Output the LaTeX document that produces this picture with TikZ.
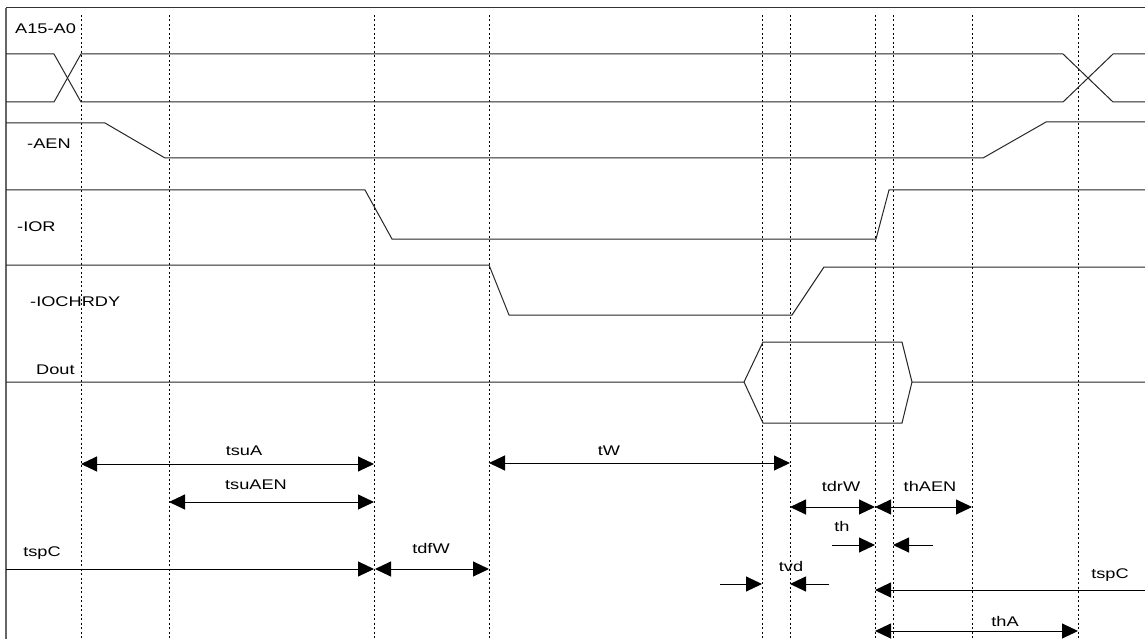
\documentclass[tikz,border=0pt]{standalone}
\usepackage{fontspec}
\usepackage{tikz}
\usetikzlibrary{arrows.meta}
\newfontfamily\diagfont[FakeStretch=1.3]{Liberation Sans}

\begin{document}
\begin{tikzpicture}[x=1pt,y=-1pt,
  sig/.style={line width=1pt,draw=black!85},
  mark line/.style={line width=0.9pt,dash pattern=on 2pt off 2.5pt},
  span/.style={line width=1pt,{Triangle[length=16pt,width=15pt]}-{Triangle[length=16pt,width=15pt]}},
  half/.style={line width=1pt,-{Triangle[length=16pt,width=15pt]}},
  lbl/.style={font=\diagfont\fontsize{14}{16}\selectfont,inner sep=0pt,anchor=base}]
\useasboundingbox (0,0) rectangle (1145,639);
\fill[white] (0,0) rectangle (1145,639);
% frame
\draw[line width=2pt,black!60] (6,8) -- (6,639);
\draw[line width=1pt,black!80] (6,8) -- (1145,8);
% time marks
\draw[mark line] (81,15) -- (81,639);
\draw[mark line] (169,15) -- (169,639);
\draw[mark line] (374,15) -- (374,639);
\draw[mark line] (489,15) -- (489,639);
\draw[mark line] (762,15) -- (762,639);
\draw[mark line] (790,15) -- (790,639);
\draw[mark line] (875,15) -- (875,639);
\draw[mark line] (893,15) -- (893,639);
\draw[mark line] (972,15) -- (972,639);
\draw[mark line] (1078,15) -- (1078,639);
% A15-A0
\node[lbl,anchor=base west] (nA) at (15,34) {A15-A0};
\draw[sig] (6,54) -- (54,54) -- (81,102) -- (1063,102) -- (1113,54) -- (1145,54);
\draw[sig] (6,102) -- (54,102) -- (81,54) -- (1063,54) -- (1113,102) -- (1145,102);
% -AEN
\node[lbl,anchor=base west] (nAEN) at (27,149) {-AEN};
\draw[sig] (6,123) -- (105,123) -- (165,158) -- (983,158) -- (1046,122) -- (1145,122);
% -IOR
\node[lbl,anchor=base west] (nIOR) at (17,231) {-IOR};
\draw[sig] (6,190) -- (365,190) -- (392,239) -- (876,239) -- (889,190) -- (1145,190);
% -IOCHRDY
\node[lbl,anchor=base west] (nRDY) at (30,306) {-IOCHRDY};
\draw[sig] (6,265) -- (489,265) -- (509,315) -- (792,315) -- (824,267) -- (1145,267);
% Dout
\node[lbl,anchor=base west] (nDout) at (36,374) {Dout};
\draw[sig] (6,382) -- (744,382) -- (763,342) -- (902,342) -- (912,382) -- (1145,382);
\draw[sig] (744,382) -- (763,423) -- (902,423) -- (912,382);
% timing parameters
\draw[span] (81,464) -- (374,464);
\node[lbl] (ntsuA) at (244,455) {tsuA};
\draw[span] (169,502) -- (374,502);
\node[lbl] (ntsuAEN) at (256,489) {tsuAEN};
\draw[half] (6,569) -- (374,569);
\node[lbl] (ntspC) at (42,556) {tspC};
\draw[span] (375,569) -- (489,569);
\node[lbl] (ntdfW) at (431,553) {tdfW};
\draw[span] (489,463) -- (790,463);
\node[lbl] (ntW) at (609,455) {tW};
\draw[half] (720,584) -- (762,584);
\draw[half] (829,584) -- (790,584);
\node[lbl] (ntvd) at (791,571) {tvd};
\draw[span] (790,507) -- (875,507);
\node[lbl] (ntdrW) at (841,491) {tdrW};
\draw[span] (875,507) -- (972,507);
\node[lbl] (nthAEN) at (930,491) {thAEN};
\draw[half] (832,545) -- (875,545);
\draw[half] (933,545) -- (893,545);
\node[lbl] (nth) at (842,531) {th};
\draw[half] (1145,590) -- (875,590);
\node[lbl] (ntspCr) at (1110,578) {tspC};
\draw[span] (875,631) -- (1078,631);
\node[lbl] (nthA) at (1005,626) {thA};
\end{tikzpicture}
\end{document}
